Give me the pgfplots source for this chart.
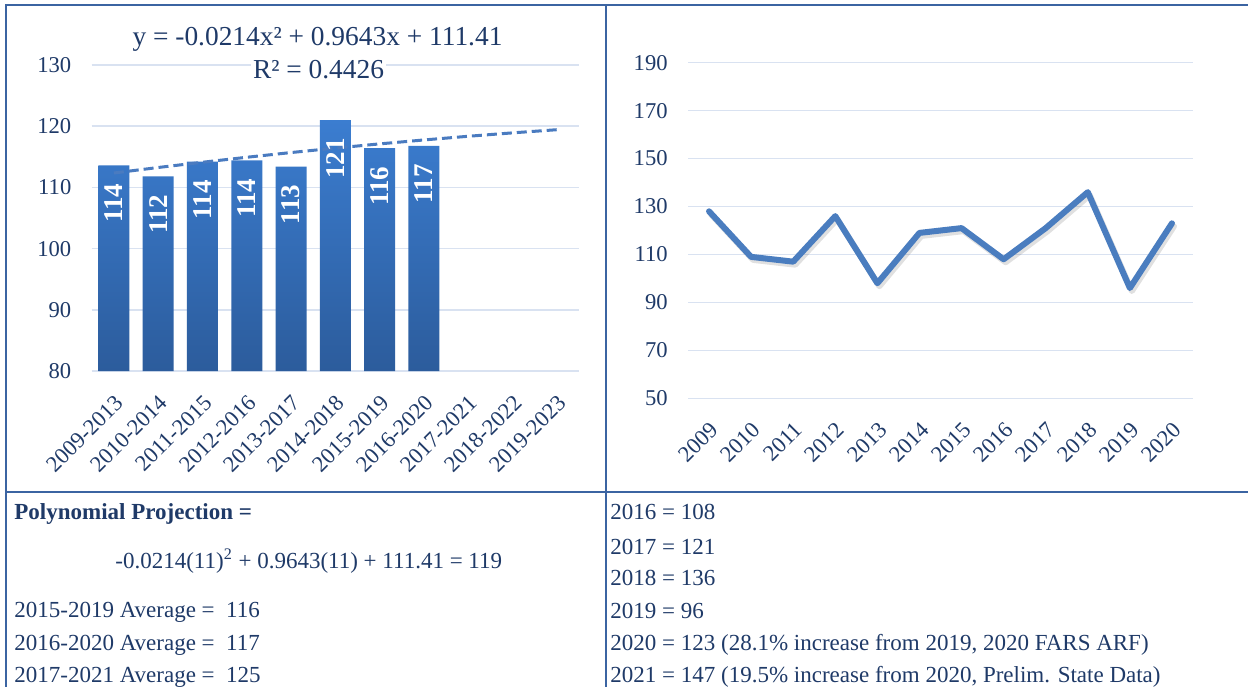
\documentclass[border=0pt]{standalone}
\usepackage{fontspec}
\setmainfont{Liberation Serif}
\usepackage{pgfplots}
\pgfplotsset{compat=1.18}
\definecolor{textc}{HTML}{1F3A68}
\definecolor{framec}{HTML}{3B64A2}
\definecolor{gridc}{HTML}{D9E2F1}
\definecolor{bartop}{HTML}{3B7DD0}
\definecolor{barbot}{HTML}{2C5C9C}
\definecolor{linec}{HTML}{4A7DBF}
\definecolor{trendc}{HTML}{4A7BC0}
\begin{document}
\begin{tikzpicture}
\useasboundingbox (0,0) rectangle (624pt,-343.5pt);
\fill[white] (0,0) rectangle (624pt,-343.5pt);

\begin{axis}[
  at={(45.85pt,-185.5pt)}, anchor=south west,
  scale only axis, width=243.65pt, height=153pt,
  xmin=-0.5, xmax=10.5, ymin=0, ymax=50,
  y filter/.expression={y-80},
  ytick={0,10,...,50}, yticklabels={80,90,100,110,120,130},
  xtick={0,...,10},
  xticklabels={2009-2013,2010-2014,2011-2015,2012-2016,2013-2017,2014-2018,2015-2019,2016-2020,2017-2021,2018-2022,2019-2023},
  axis line style={draw=none}, major tick length=0pt,
  ymajorgrids, grid style={gridc, line width=0.75pt},
  /pgf/number format/assume math mode=true,
  tick label style={font=\fontsize{11.3}{13}\selectfont, text=textc},
  yticklabel style={anchor=east, inner sep=0pt, xshift=-10pt},
  xticklabel style={rotate=45, anchor=north east, inner sep=0pt},
  xticklabel shift=11pt,
]
\addplot[ybar, bar width=15.5pt, draw=none, top color=bartop, bottom color=barbot,
  point meta=rawy,
  nodes near coords={\pgfmathprintnumber{\pgfplotspointmeta}\kern9pt},
  nodes near coords style={font=\bfseries\fontsize{13.5}{16}\selectfont, text=white, rotate=90, anchor=east, inner sep=0pt, /pgf/number format/fixed, /pgf/number format/precision=0}]
  coordinates {(0,113.6) (1,111.8) (2,114.2) (3,114.4) (4,113.4) (5,121.0) (6,116.4) (7,116.8)};
\addplot[trendc, line width=1.5pt, dash pattern=on 5pt off 2.5pt]
  coordinates {(0,112.353) (1,113.253) (2,114.110) (3,114.925) (4,115.697) (5,116.425) (6,117.112) (7,117.755) (8,118.355) (9,118.913) (10,119.428)};
\end{axis}

\begin{axis}[
  at={(344pt,-199.15pt)}, anchor=south west,
  scale only axis, width=252.5pt, height=167.8pt,
  xmin=-0.5, xmax=11.5, ymin=50, ymax=190,
  ytick={50,70,...,190},
  xtick={0,...,11},
  xticklabels={2009,2010,2011,2012,2013,2014,2015,2016,2017,2018,2019,2020},
  axis line style={draw=none}, major tick length=0pt,
  ymajorgrids, grid style={gridc, line width=0.75pt},
  /pgf/number format/assume math mode=true,
  tick label style={font=\fontsize{11.3}{13}\selectfont, text=textc},
  yticklabel style={anchor=east, inner sep=0pt, xshift=-10pt},
  xticklabel style={rotate=45, anchor=north east, inner sep=0pt},
  xticklabel shift=11pt,
]
\addplot[linec, line width=3pt, line join=round, line cap=round,
  preaction={draw=black, draw opacity=0.12, line width=3pt, transform canvas={xshift=1pt, yshift=-1.5pt}}]
  coordinates {(0,128) (1,109) (2,107) (3,126) (4,98) (5,119) (6,121) (7,108) (8,121) (9,136) (10,96) (11,123)};
\end{axis}

\begin{scope}[x=0.5pt,y=-0.5pt]
\draw[framec, line width=1pt] (1248,5) -- (6,5) -- (6,687);
\draw[framec, line width=1pt] (606,5) -- (606,687);
\draw[framec, line width=1pt] (6,492) -- (1248,492);
\node[font=\fontsize{13.7}{16}\selectfont, text=textc, anchor=base, inner sep=1pt, fill=white] at (317.5,45) {y = -0.0214x² + 0.9643x + 111.41};
\node[font=\fontsize{13.7}{16}\selectfont, text=textc, anchor=base, inner sep=1pt, fill=white] at (318.5,78) {R² = 0.4426};
\begin{scope}[every node/.style={font=\fontsize{11.5}{14}\selectfont, text=textc, anchor=base west, inner sep=0pt}]
\node at (14,519) {\textbf{Polynomial Projection =}};
\node at (115,568.5) {-0.0214(11)\textsuperscript{2} + 0.9643(11) + 111.41 = 119};
\node at (14,617.5) {2015-2019 Average =\ \ 116};
\node at (14,650.5) {2016-2020 Average =\ \ 117};
\node at (14,682.5) {2017-2021 Average =\ \ 125};
\node at (610,519) {2016 = 108};
\node at (610,554.5) {2017 = 121};
\node at (610,585.5) {2018 = 136};
\node at (610,618.5) {2019 = 96};
\node at (610,650.5) {2020 = 123 (28.1\% increase from 2019, 2020 FARS ARF)};
\node at (610,682.5) {2021 = 147 (19.5\% increase from 2020, Prelim. State Data)};
\end{scope}
\end{scope}
\end{tikzpicture}
\end{document}
